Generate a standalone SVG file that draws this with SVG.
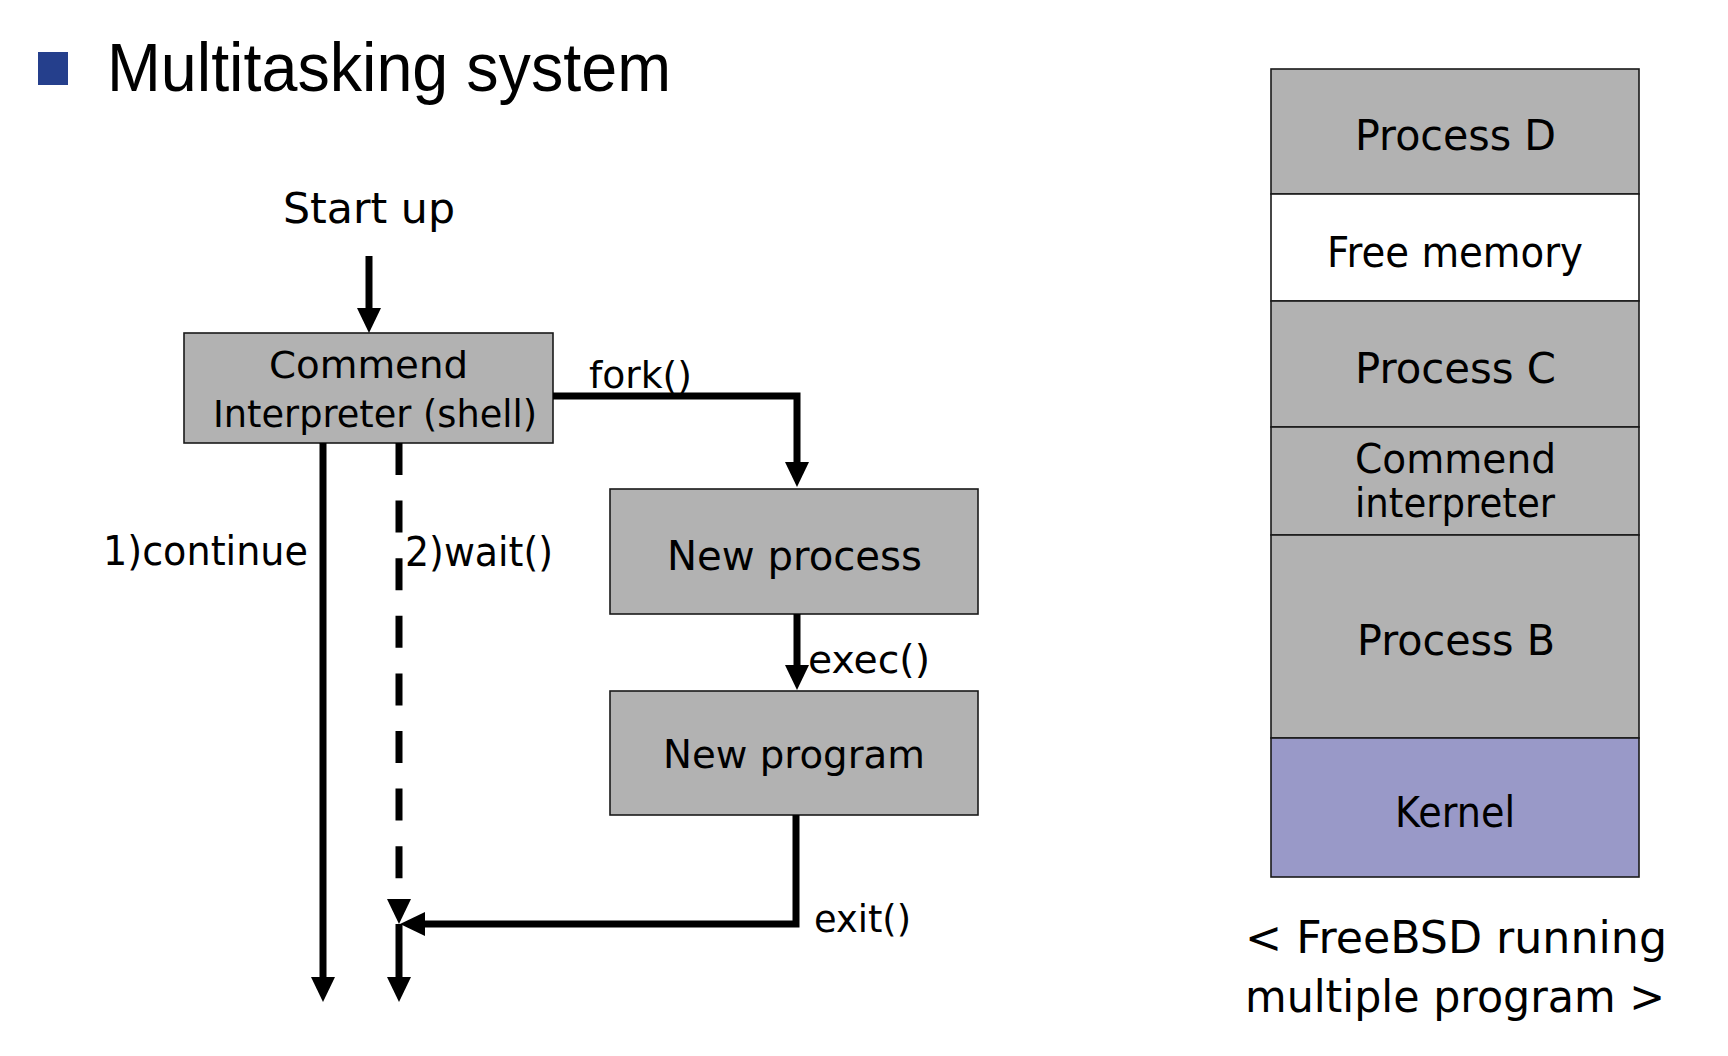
<svg xmlns="http://www.w3.org/2000/svg" width="1728" height="1056" viewBox="0 0 1728 1056">
<style>
.t{font-family:"DejaVu Sans","Liberation Sans",sans-serif;fill:#000;}
.box{fill:#b2b2b2;stroke:#1a1a1a;stroke-width:1.6;}
.free{fill:#ffffff;stroke:#1a1a1a;stroke-width:1.6;}
.kern{fill:#9999c8;stroke:#1a1a1a;stroke-width:1.6;}
.c{fill:none;stroke:#000;stroke-width:7;stroke-linejoin:miter;}
.dash{stroke-dasharray:32 25.6;}
</style>
<defs>
<marker id="ah" viewBox="0 0 25 24" refX="0" refY="12" markerWidth="25" markerHeight="24" markerUnits="userSpaceOnUse" orient="auto">
<path d="M0,0 L25,12 L0,24 z" fill="#000"/>
</marker>
</defs>
<rect width="1728" height="1056" fill="#ffffff"/>

<g id="title">
<rect x="38" y="52" width="30" height="33" fill="#253f8c"/>
<text x="107" y="91" font-family="Liberation Sans, Arial, sans-serif" font-size="69" textLength="564" lengthAdjust="spacingAndGlyphs">Multitasking system</text>
</g>

<g id="startup">
<text class="t" x="283" y="223" font-size="43" textLength="172" lengthAdjust="spacingAndGlyphs">Start up</text>
</g>

<g id="shell">
<rect class="box" x="184" y="333" width="369" height="110"/>
<text class="t" x="269" y="378" font-size="38" textLength="199" lengthAdjust="spacingAndGlyphs">Commend</text>
<text class="t" x="213" y="427" font-size="37" textLength="324" lengthAdjust="spacingAndGlyphs">Interpreter (shell)</text>
</g>

<g id="newprocess">
<rect class="box" x="610" y="489" width="368" height="125"/>
<text class="t" x="667" y="570" font-size="40" textLength="255" lengthAdjust="spacingAndGlyphs">New process</text>
</g>

<g id="newprogram">
<rect class="box" x="610" y="691" width="368" height="124"/>
<text class="t" x="663" y="768" font-size="39" textLength="262" lengthAdjust="spacingAndGlyphs">New program</text>
</g>

<g id="connectors">
<path class="c" d="M369,256 V308" marker-end="url(#ah)"/>
<path class="c" d="M553,396 H797 V462" marker-end="url(#ah)"/>
<path class="c" d="M797,614 V665" marker-end="url(#ah)"/>
<path class="c" d="M796,815 V924 H425" marker-end="url(#ah)"/>
<path class="c" d="M323,443 V977" marker-end="url(#ah)"/>
<path class="c dash" d="M399,443 V899" marker-end="url(#ah)"/>
<path class="c" d="M399,924 V977" marker-end="url(#ah)"/>
</g>

<g id="labels">
<text class="t" x="589" y="388" font-size="38" textLength="103" lengthAdjust="spacingAndGlyphs">fork()</text>
<text class="t" x="808" y="673" font-size="39" textLength="122" lengthAdjust="spacingAndGlyphs">exec()</text>
<text class="t" x="814" y="932" font-size="37" textLength="97" lengthAdjust="spacingAndGlyphs">exit()</text>
<text class="t" x="103" y="565" font-size="40" textLength="205" lengthAdjust="spacingAndGlyphs">1)continue</text>
<text class="t" x="405" y="566" font-size="40" textLength="148" lengthAdjust="spacingAndGlyphs">2)wait()</text>
</g>

<g id="mem-process-d">
<rect class="box" x="1271" y="69" width="368" height="125"/>
<text class="t" x="1355" y="150" font-size="42" textLength="201" lengthAdjust="spacingAndGlyphs">Process D</text>
</g>
<g id="mem-free">
<rect class="free" x="1271" y="194" width="368" height="107"/>
<text class="t" x="1327" y="267" font-size="42" textLength="256" lengthAdjust="spacingAndGlyphs">Free memory</text>
</g>
<g id="mem-process-c">
<rect class="box" x="1271" y="301" width="368" height="126"/>
<text class="t" x="1355" y="383" font-size="42" textLength="201" lengthAdjust="spacingAndGlyphs">Process C</text>
</g>
<g id="mem-commend">
<rect class="box" x="1271" y="427" width="368" height="108"/>
<text class="t" x="1355" y="473" font-size="40" textLength="201" lengthAdjust="spacingAndGlyphs">Commend</text>
<text class="t" x="1355" y="517" font-size="40" textLength="200" lengthAdjust="spacingAndGlyphs">interpreter</text>
</g>
<g id="mem-process-b">
<rect class="box" x="1271" y="535" width="368" height="203"/>
<text class="t" x="1357" y="655" font-size="42" textLength="198" lengthAdjust="spacingAndGlyphs">Process B</text>
</g>
<g id="mem-kernel">
<rect class="kern" x="1271" y="738" width="368" height="139"/>
<text class="t" x="1395" y="827" font-size="42" textLength="120" lengthAdjust="spacingAndGlyphs">Kernel</text>
</g>

<g id="caption">
<text class="t" x="1245" y="953" font-size="44" textLength="422" lengthAdjust="spacingAndGlyphs">&lt; FreeBSD running</text>
<text class="t" x="1245" y="1012" font-size="44" textLength="420" lengthAdjust="spacingAndGlyphs">multiple program &gt;</text>
</g>
</svg>
